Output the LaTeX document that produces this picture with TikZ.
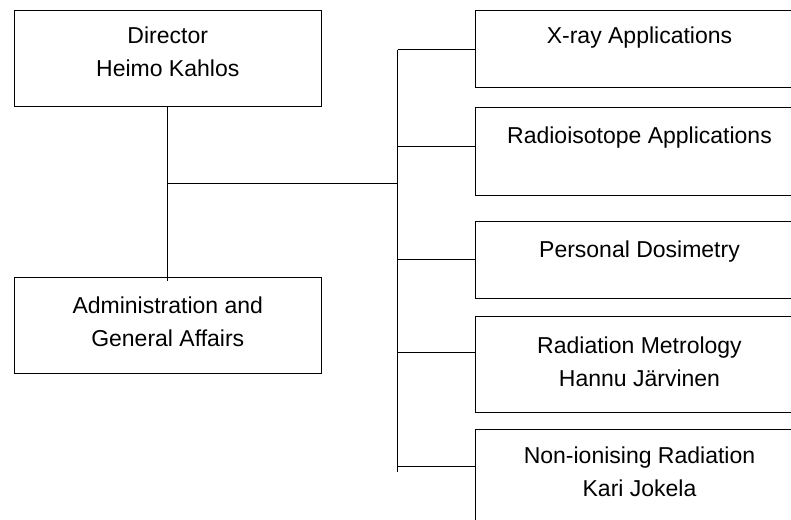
\documentclass[tikz,border=0pt]{standalone}
\usepackage{fontspec}
\setmainfont{Liberation Sans}
\begin{document}
\begin{tikzpicture}[x=1pt,y=-1pt,
  box/.style={draw, line width=1pt, rectangle, anchor=north west, inner sep=0pt},
  txt/.style={font=\fontsize{23}{33.3}\selectfont, align=center, inner sep=0pt, anchor=north},
  conn/.style={line width=1pt}]
\useasboundingbox (0,0) rectangle (791,519);
\clip (0,0) rectangle (791,519);
% left boxes
\node[box, minimum width=307.5pt, minimum height=96pt] (dir) at (13.5,10) {};
\node[txt] (dirt) at ([yshift=-16.7pt]dir.north) {Director\\Heimo Kahlos};
\node[box, minimum width=307.5pt, minimum height=96pt] (adm) at (13.5,277) {};
\node[txt] (admt) at ([yshift=-19.4pt]adm.north) {Administration and\\General Affairs};
% right boxes
\node[box, minimum width=328pt, minimum height=76.5pt] (xr) at (475,10) {};
\node[txt] (xrt) at ([yshift=-16.7pt]xr.north) {X-ray Applications};
\node[box, minimum width=328pt, minimum height=88pt] (ri) at (475,107) {};
\node[txt] (rit) at ([yshift=-19.4pt]ri.north) {Radioisotope Applications};
\node[box, minimum width=328pt, minimum height=77pt] (pd) at (475,221) {};
\node[txt] (pdt) at ([yshift=-19.3pt]pd.north) {Personal Dosimetry};
\node[box, minimum width=328pt, minimum height=96pt] (rm) at (475,316) {};
\node[txt] (rmt) at ([yshift=-20.5pt]rm.north) {Radiation Metrology\\Hannu Järvinen};
\node[box, minimum width=328pt, minimum height=96pt] (ni) at (475,429) {};
\node[txt] (nit) at ([yshift=-17.4pt]ni.north) {Non-ionising Radiation\\Kari Jokela};
% connectors
\coordinate (j) at (168,183);
\coordinate (t1) at (397.5,50);
\coordinate (t2) at (397.5,146);
\coordinate (t3) at (397.5,259);
\coordinate (t4) at (397.5,352);
\coordinate (t5) at (397.5,466);
\coordinate (tend) at (397.5,472);
\draw[conn] (dir.south) -- ([yshift=-3.5pt]adm.north);
\draw[conn] (j) -- (j -| t1);
\draw[conn] (t1) -- (tend);
\draw[conn] (t1) -- (t1 -| xr.west);
\draw[conn] (t2) -- (t2 -| ri.west);
\draw[conn] (t3) -- (t3 -| pd.west);
\draw[conn] (t4) -- (t4 -| rm.west);
\draw[conn] (t5) -- (t5 -| ni.west);
\end{tikzpicture}
\end{document}
